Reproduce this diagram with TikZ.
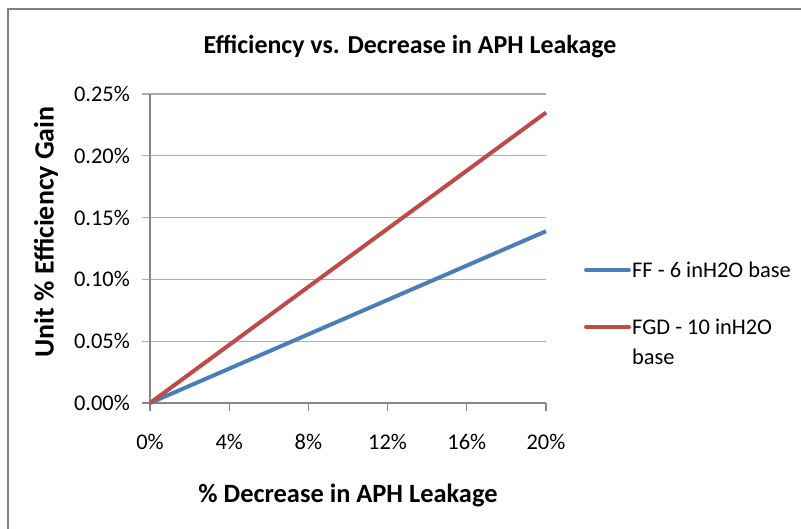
\documentclass[tikz,border=0pt]{standalone}
\usepackage{fontspec}
\setmainfont{Carlito}
\usepackage{tikz}
\usetikzlibrary{positioning}

\begin{document}
\begin{tikzpicture}[x=1bp, y=-1bp, inner sep=0pt]
  \def\xo{150}
  \def\yo{403}
  \def\dx{19.8}  % bp per 1%
  \def\dy{61.8}  % bp per 0.05%
  \colorlet{framegray}{black!50}
  \colorlet{gridgray}{black!32}
  \colorlet{axisgray}{black!48}
  \definecolor{seriesFF}{HTML}{4A7EBB}
  \definecolor{seriesFGD}{HTML}{BE4B48}
  \tikzset{
    ticklabel/.style={font=\fontsize{22.5}{24}\selectfont},
    axistitle/.style={font=\fontsize{26.5}{28}\selectfont\bfseries},
    legendtext/.style={font=\fontsize{22.5}{30}\selectfont, anchor=west, align=left},
    series/.style={line width=4bp}
  }

  \useasboundingbox (0,0) rectangle (801,529);

  %--- Chart frame ---
  \draw[framegray, line width=2bp] (8,529) -- (8,9) -- (801,9);

  %--- Title ---
  \node[font=\fontsize{26}{28}\selectfont\bfseries] (title) at (410,47) {Efficiency vs. Decrease in APH Leakage};

  %--- Horizontal grid lines and y tick labels ---
  \foreach \j/\lab in {0/0.00\%,1/0.05\%,2/0.10\%,3/0.15\%,4/0.20\%,5/0.25\%} {
    \ifnum\j=0
      \draw[axisgray, line width=1.2bp] ({\xo-8},{\yo-\j*\dy}) -- (546,{\yo-\j*\dy});
    \else
      \draw[gridgray, line width=1.2bp] ({\xo-8},{\yo-\j*\dy}) -- (546,{\yo-\j*\dy});
    \fi
    \node[ticklabel, anchor=east] (ticky\j) at (130,{\yo-\j*\dy}) {\lab};
  }

  %--- Vertical axis ---
  \draw[axisgray, line width=1.2bp] (\xo,\yo) -- (\xo,{\yo-5*\dy});

  %--- x tick marks and labels ---
  \foreach \i in {0,4,...,20} {
    \draw[axisgray, line width=1.2bp] ({\xo+\i*\dx},\yo) -- ({\xo+\i*\dx},{\yo+8});
    \node[ticklabel] (tickx\i) at ({\xo+\i*\dx},442) {\i\%};
  }

  %--- Axis titles ---
  \node[axistitle] (xlabel) at (348,495) {\% Decrease in APH Leakage};
  \node[axistitle, font=\fontsize{28}{30}\selectfont\bfseries, rotate=90] (ylabel) at (46,232) {Unit \% Efficiency Gain};

  %--- Data series ---
  \draw[series, seriesFF]  (\xo,\yo) -- ({\xo+20*\dx},{\yo-0.139/0.05*\dy});
  \draw[series, seriesFGD] (\xo,\yo) -- ({\xo+20*\dx},{\yo-0.235/0.05*\dy});

  %--- Legend ---
  \node[legendtext] (legFF)  at (632,270) {FF - 6 inH2O base};
  \node[legendtext] (legFGD) at (632,342) {FGD - 10 inH2O\\base};
  \coordinate (legFFstart)  at (586,270);
  \coordinate (legFGDstart) at (586,327);
  \draw[series, seriesFF, line cap=round, shorten >=3bp]  (legFFstart) -- (legFF.west);
  \draw[series, seriesFGD, line cap=round, shorten >=3bp] (legFGDstart) -- (legFGDstart -| legFGD.west);

\end{tikzpicture}
\end{document}
